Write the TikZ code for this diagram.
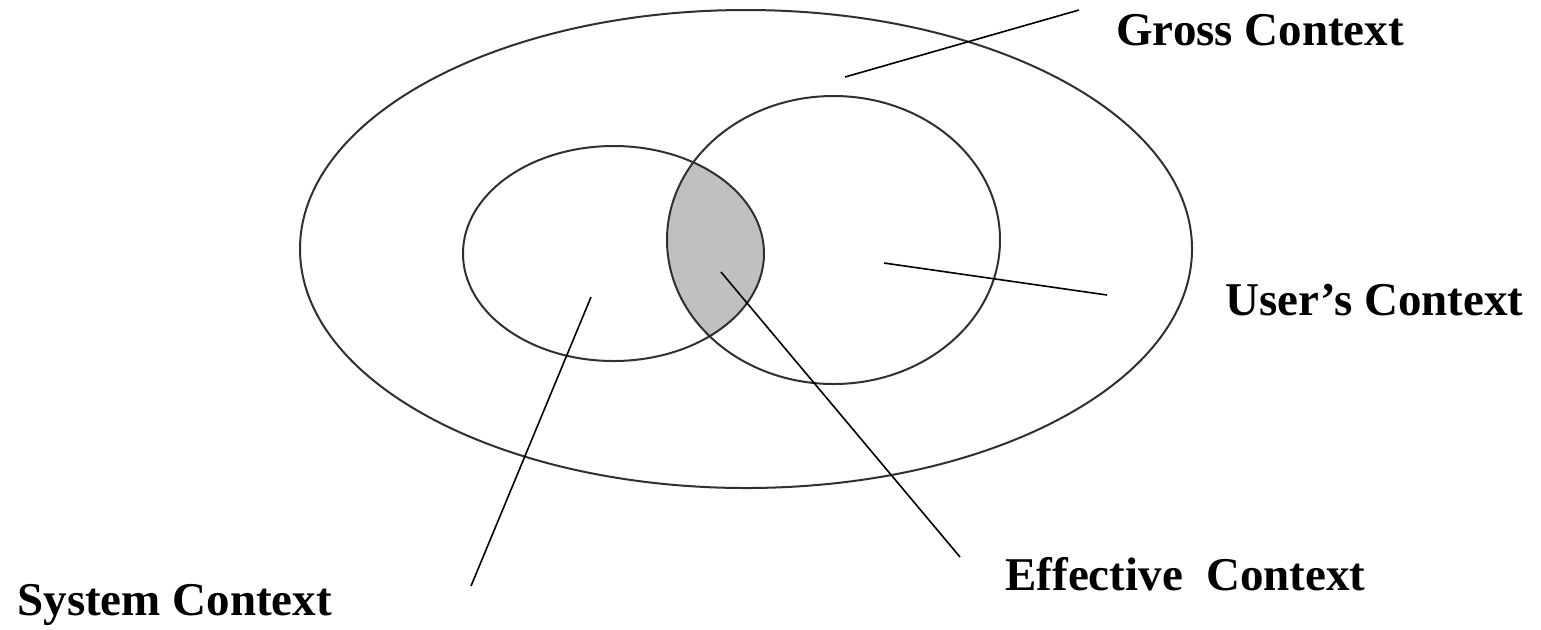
\documentclass[tikz,border=0pt]{standalone}
\usepackage{fontspec}
\setmainfont{Liberation Serif}
\usetikzlibrary{shapes.geometric}
\definecolor{lensgray}{HTML}{C0C0C0}
\definecolor{rim}{HTML}{303030}
\begin{document}
\begin{tikzpicture}[x=0.5pt,y=-0.5pt,
  ctx/.style={ellipse, draw=rim, line width=1pt, inner sep=0pt},
  leader/.style={draw=black, line width=0.8pt},
  lbl/.style={anchor=base west, inner sep=0pt, font=\fontsize{23.5pt}{28pt}\selectfont\bfseries}]
\useasboundingbox (0,0) rectangle (1541,629);
% lens (intersection)
\begin{scope}
  \clip (613.5,253.5) ellipse [x radius=150.5, y radius=107.5];
  \fill[lensgray] (833.5,240) ellipse [x radius=166.5, y radius=144];
\end{scope}
% ellipses
\node[ctx, minimum width=446pt, minimum height=239pt] (gross) at (746,249) {};
\node[ctx, minimum width=166.5pt, minimum height=144pt] (user) at (833.5,240) {};
\node[ctx, minimum width=150.5pt, minimum height=107.5pt] (system) at (613.5,253.5) {};
% labels
\node[lbl] (lgross) at (1116,45) {Gross Context};
\node[lbl] (luser) at (1225,315) {User’s Context};
\node[lbl] (leff) at (1005,590) {Effective~ Context};
\node[lbl] (lsys) at (17,615) {System Context};
% leader end points
\coordinate (g1) at (845,77);   \coordinate (g2) at (1079,10);
\coordinate (u1) at (884,263);  \coordinate (u2) at (1107,295);
\coordinate (e1) at (721,272);  \coordinate (e2) at (960,557);
\coordinate (s1) at (591,297);  \coordinate (s2) at (471,586);
\draw[leader] (g1) -- (g2);
\draw[leader] (u1) -- (u2);
\draw[leader] (e1) -- (e2);
\draw[leader] (s1) -- (s2);
\end{tikzpicture}
\end{document}
